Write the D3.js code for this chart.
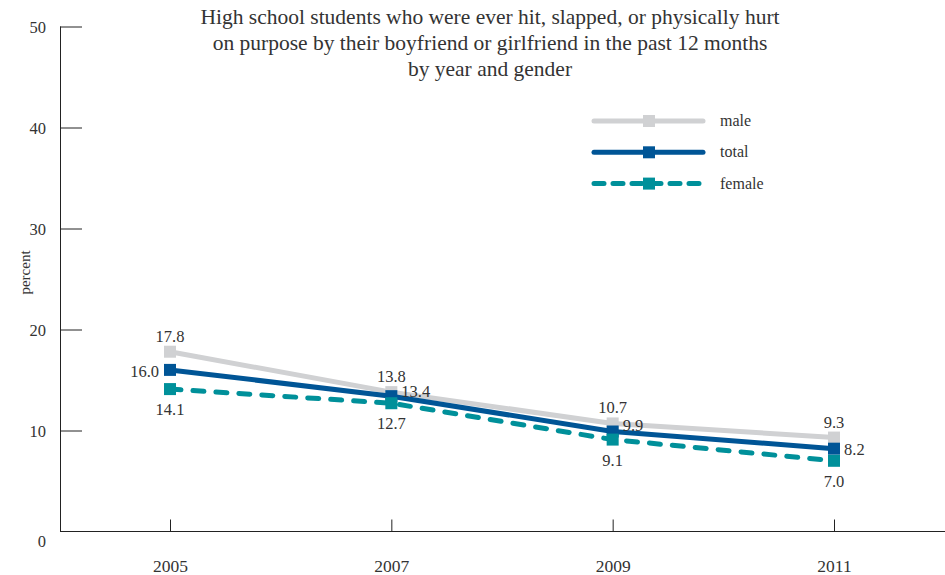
<!DOCTYPE html>
<html><head><meta charset="utf-8">
<script src="https://cdn.jsdelivr.net/npm/d3@7"></script>
<style>body{margin:0;background:#fff;} text{font-family:"Liberation Serif","DejaVu Serif",serif;fill:#333;}</style>
</head><body>
<svg id="c" width="945" height="575"></svg>
<script>
const years = ["2005","2007","2009","2011"];
const male = [17.8,13.8,10.7,9.3];
const total = [16.0,13.4,9.9,8.2];
const female = [14.1,12.7,9.1,7.0];
const yTicks = [0,10,20,30,40,50];
const titleLines = ["High school students who were ever hit, slapped, or physically hurt","on purpose by their boyfriend or girlfriend in the past 12 months","by year and gender"];

const svg = d3.select("#c");
const x = d3.scalePoint().domain(years).range([170,834]);
const y = d3.scaleLinear().domain([0,50]).range([531.5,26.5]);

// axes
const yAx = svg.append("g").attr("transform","translate(60,0)")
  .call(d3.axisRight(y).tickValues(yTicks).tickSize(22).tickFormat(d3.format("d")));
yAx.select(".domain").attr("d","M0.5,26.5V531.5").attr("stroke","#222");
yAx.selectAll(".tick line").attr("stroke","#222");
yAx.selectAll(".tick text").attr("x",-14).attr("text-anchor","end").attr("font-size",16.5).attr("dy","0.35em");
yAx.selectAll(".tick").filter(d=>d===0).select("line").remove();
yAx.selectAll(".tick").filter(d=>d===0).select("text").attr("dy","0.9em");

const xAx = svg.append("g").attr("transform","translate(0,531.5)")
  .call(d3.axisTop(x).tickSize(12).tickSizeOuter(0));
xAx.select(".domain").attr("d","M60,0H945").attr("stroke","#222");
xAx.selectAll(".tick line").attr("stroke","#222");
xAx.selectAll(".tick text").attr("y",40).attr("font-size",17.5).attr("dy","0");

svg.append("text").attr("transform","translate(30,272.5) rotate(-90)").attr("text-anchor","middle")
  .attr("font-size",15).text("percent");

// title
svg.append("g").selectAll("text").data(titleLines).join("text")
  .attr("x",490).attr("y",(d,i)=>24+i*26).attr("text-anchor","middle").attr("font-size",21.5).text(d=>d);

const series = [
  {name:"male", vals:male, color:"#d0d1d3", dash:null},
  {name:"total", vals:total, color:"#005596", dash:null},
  {name:"female", vals:female, color:"#00909a", dash:"11,12"}
];
const line = d3.line().x((d,i)=>x(years[i])).y(d=>y(d));
series.forEach(s=>{
  svg.append("path").datum(s.vals).attr("d",line).attr("fill","none")
    .attr("stroke",s.color).attr("stroke-width",5).attr("stroke-dasharray",s.dash)
    .attr("stroke-linecap",s.dash?"round":"butt");
  svg.append("g").selectAll("rect").data(s.vals).join("rect")
    .attr("x",(d,i)=>x(years[i])-6).attr("y",d=>y(d)-6).attr("width",12).attr("height",12).attr("fill",s.color);
});

// labels
const fmt = d3.format(".1f");
const totalDy = [7,1,-1,6];
series.forEach(s=>{
  svg.append("g").selectAll("text").data(s.vals).join("text")
    .attr("font-size",16.5)
    .attr("text-anchor",(d,i)=> s.name==="total" ? (i===0?"end":"start") : "middle")
    .attr("x",(d,i)=>{
      const cx = x(years[i]);
      if(s.name==="total") return i===0 ? cx-11 : cx+10;
      return cx;
    })
    .attr("y",(d,i)=>{
      if(s.name==="male") return y(d)-10;
      if(s.name==="female") return y(d)+26;
      return y(d)+totalDy[i];
    })
    .text(d=>fmt(d));
});

// legend
const lg = svg.append("g");
series.forEach((s,i)=>{
  const ly = 121 + i*31.3;
  lg.append("line").attr("x1",594).attr("x2",703).attr("y1",ly).attr("y2",ly)
    .attr("stroke",s.color).attr("stroke-width",5).attr("stroke-linecap","round")
    .attr("stroke-dasharray",s.dash?"10,9":null);
  lg.append("rect").attr("x",643).attr("y",ly-6).attr("width",12).attr("height",12).attr("fill",s.color);
  lg.append("text").attr("x",720).attr("y",ly+5).attr("font-size",16).text(s.name);
});
</script>
</body></html>
